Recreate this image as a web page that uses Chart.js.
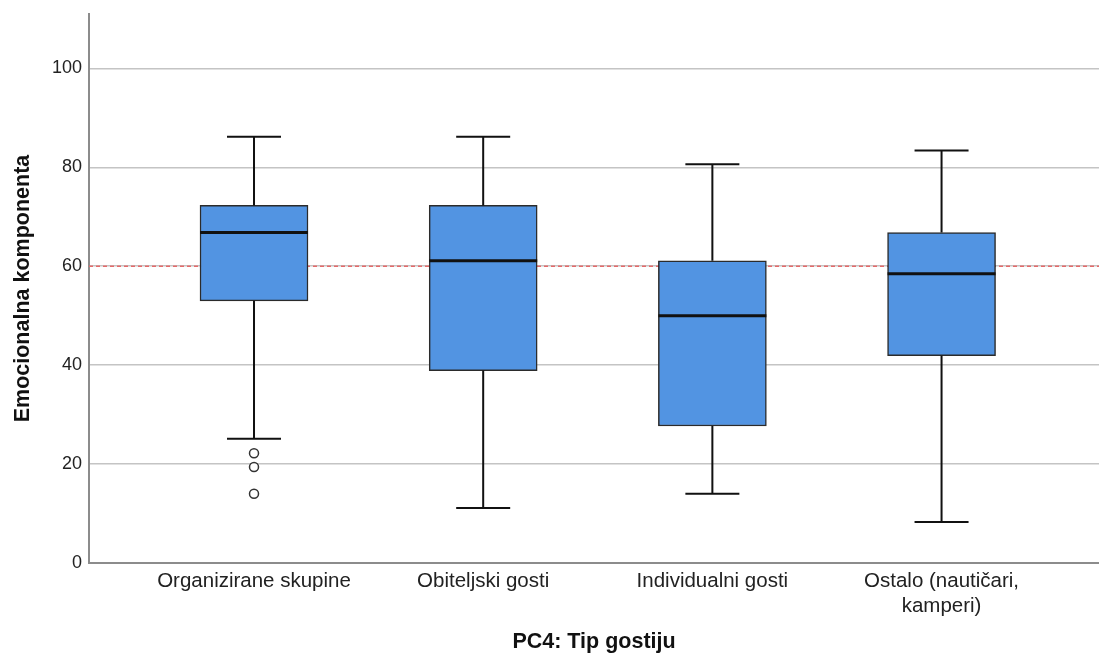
<!DOCTYPE html>
<html lang="hr">
<head>
  <meta charset="UTF-8" />
  <title>Emocionalna komponenta po tipu gostiju</title>
  <script src="https://cdn.jsdelivr.net/npm/chart.js"></script>
  <style>
    html, body { margin: 0; padding: 0; background: #fff; }
    #wrap { width: 1099px; height: 655px; }
  </style>
</head>
<body>
  <div id="wrap"><canvas id="boxChart"></canvas></div>

  <script>
    // podaci ocitani s grafa
    const categories  = ['Organizirane skupine', 'Obiteljski gosti', 'Individualni gosti', ['Ostalo (nautičari,', 'kamperi)']];
    const whiskerLow  = [25.1, 11.1, 14.0, 8.3];
    const q1          = [53.0, 38.9, 27.7, 41.9];
    const median      = [66.8, 61.1, 50.0, 58.5];
    const q3          = [72.3, 72.3, 61.1, 66.8];
    const whiskerHigh = [86.2, 86.2, 80.6, 83.4];
    const outlierGroup  = [1, 1, 1];
    const outlierValues = [22.2, 19.4, 14.0];
    const referenceValue = 60;
    const yTicks = [0, 20, 40, 60, 80, 100];

    const FONT = '"Liberation Sans", Arial, sans-serif';

    // brkovi, medijani i referentna linija
    const boxPlotPlugin = {
      id: 'boxPlot',
      beforeDatasetsDraw(chart) {
        const {ctx, chartArea, scales: {y}} = chart;
        const yy = y.getPixelForValue(referenceValue);
        ctx.save();
        ctx.strokeStyle = '#e46a6a';
        ctx.lineWidth = 1.5;
        ctx.setLineDash([4, 3]);
        ctx.beginPath();
        ctx.moveTo(chartArea.left, yy);
        ctx.lineTo(chartArea.right, yy);
        ctx.stroke();
        ctx.restore();
      },
      afterDatasetsDraw(chart) {
        const {ctx, scales: {x, y}} = chart;
        const boxW = chart.getDatasetMeta(0).data[0].width;
        ctx.save();
        ctx.strokeStyle = '#111';
        categories.forEach((c, i) => {
          const cx = x.getPixelForValue(i + 1);
          const capW = boxW / 2;
          ctx.lineWidth = 2;
          ctx.beginPath();
          ctx.moveTo(cx, y.getPixelForValue(q3[i]));
          ctx.lineTo(cx, y.getPixelForValue(whiskerHigh[i]));
          ctx.moveTo(cx, y.getPixelForValue(q1[i]));
          ctx.lineTo(cx, y.getPixelForValue(whiskerLow[i]));
          ctx.moveTo(cx - capW / 2, y.getPixelForValue(whiskerHigh[i]));
          ctx.lineTo(cx + capW / 2, y.getPixelForValue(whiskerHigh[i]));
          ctx.moveTo(cx - capW / 2, y.getPixelForValue(whiskerLow[i]));
          ctx.lineTo(cx + capW / 2, y.getPixelForValue(whiskerLow[i]));
          ctx.stroke();
          ctx.lineWidth = 3;
          ctx.beginPath();
          ctx.moveTo(cx - boxW / 2, y.getPixelForValue(median[i]));
          ctx.lineTo(cx + boxW / 2, y.getPixelForValue(median[i]));
          ctx.stroke();
        });
        ctx.restore();
      }
    };

    const ctx = document.getElementById('boxChart').getContext('2d');
    new Chart(ctx, {
      type: 'bar',
      data: {
        datasets: [{
          label: 'IQR',
          data: categories.map((c, i) => ({ x: i + 1, y: [q1[i], q3[i]] })),
          backgroundColor: '#5294e2',
          borderColor: '#2b2b2b',
          borderWidth: 1.5,
          borderSkipped: false,
          barThickness: 108
        }, {
          type: 'scatter',
          label: 'Outliers',
          data: outlierGroup.map((g, i) => ({ x: g, y: outlierValues[i] })),
          pointRadius: 4.5,
          pointBorderWidth: 1.5,
          pointBackgroundColor: '#fff',
          pointBorderColor: '#333'
        }]
      },
      options: {
        responsive: true,
        maintainAspectRatio: false,
        animation: false,
        layout: { autoPadding: false, padding: { top: 14, left: 0, right: 0, bottom: 0 } },
        plugins: { legend: { display: false }, tooltip: { enabled: false } },
        scales: {
          x: {
            type: 'linear',
            offset: false,
            min: 0.28,
            max: 4.687,
            afterBuildTicks: s => { s.ticks = categories.map((c, i) => ({ value: i + 1 })); },
            afterFit: s => { s.height = 92; s.paddingLeft = 0; s.paddingRight = 0; },
            grid: { display: false, drawTicks: false },
            border: { display: true, color: '#8c8c8c', width: 2 },
            ticks: {
              callback: v => categories[v - 1],
              color: '#222',
              padding: 6,
              maxRotation: 0,
              autoSkip: false,
              font: { family: FONT, size: 20.5 }
            },
            title: {
              display: true,
              text: 'PC4: Tip gostiju',
              color: '#111',
              padding: { top: 0, bottom: 0 },
              font: { family: FONT, size: 21.5, weight: 'bold' }
            }
          },
          y: {
            min: 0,
            max: 111,
            afterBuildTicks: s => { s.ticks = yTicks.map(v => ({ value: v })); },
            afterFit: s => { s.width = 89; s.paddingTop = 0; s.paddingBottom = 0; },
            grid: { color: '#c4c4c4', lineWidth: 1.5, drawTicks: false },
            border: { display: true, color: '#8c8c8c', width: 2 },
            ticks: {
              color: '#222',
              padding: 7,
              font: { family: FONT, size: 18 }
            },
            title: {
              display: true,
              text: 'Emocionalna komponenta',
              color: '#111',
              padding: { top: 10, bottom: 0 },
              font: { family: FONT, size: 21.5, weight: 'bold' }
            }
          }
        }
      },
      plugins: [boxPlotPlugin]
    });
  </script>
</body>
</html>
